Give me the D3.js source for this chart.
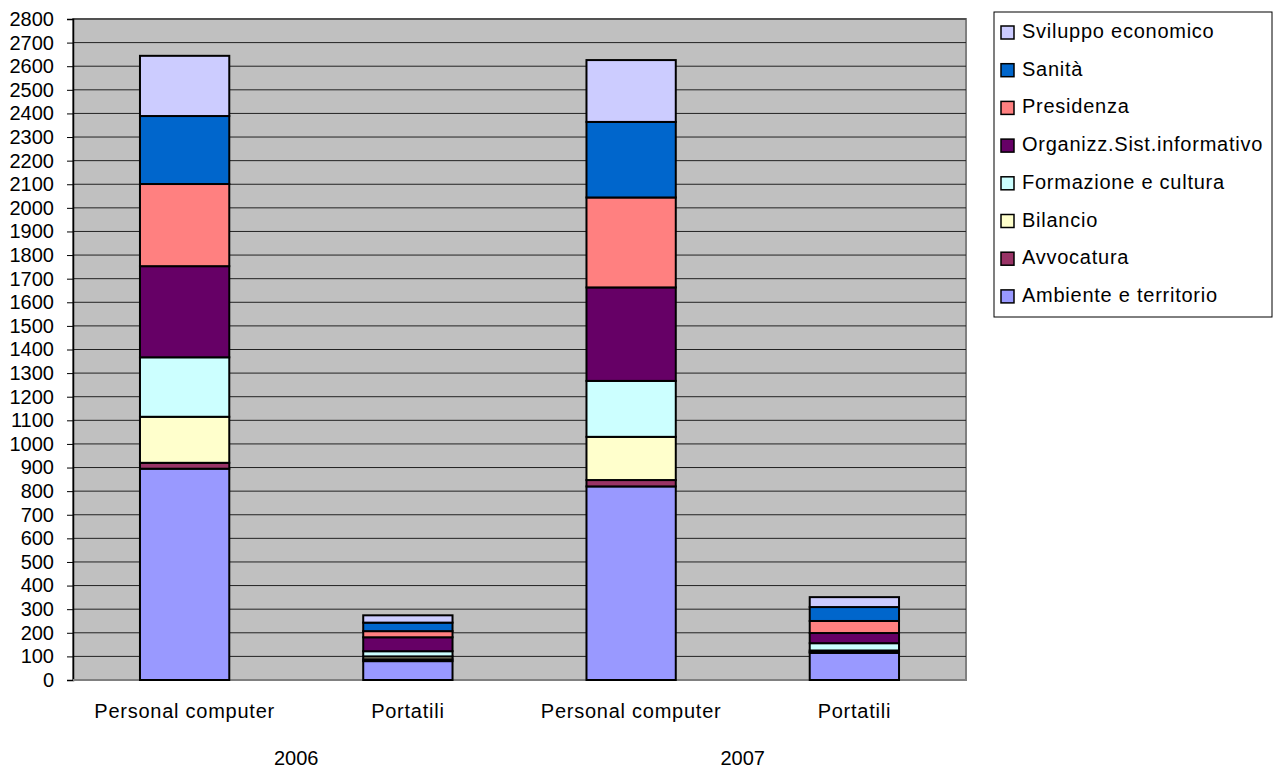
<!DOCTYPE html>
<html>
<head>
<meta charset="utf-8">
<script src="https://cdn.jsdelivr.net/npm/d3@7"></script>
<style>
  body { margin: 0; background: #fff; }
  text { font-family: "Liberation Sans", Arial, sans-serif; fill: #000; }
</style>
</head>
<body>
<svg id="chart" width="1278" height="771"></svg>
<script>
// bars, left to right
const barLabels = ["Personal computer", "Portatili", "Personal computer", "Portatili"];
const years = ["2006", "2007"];

// series, bottom to top of the stack
const seriesNames = ["Ambiente e territorio", "Avvocatura", "Bilancio", "Formazione e cultura",
  "Organizz.Sist.informativo", "Presidenza", "Sanità", "Sviluppo economico"];
const seriesColors = ["#9999FF", "#993366", "#FFFFCC", "#CCFFFF",
  "#660066", "#FF8080", "#0066CC", "#CCCCFF"];

const ambiente   = [895, 80, 820, 115];
const avvocatura = [25, 8, 27, 4];
const bilancio   = [195, 12, 183, 6];
const formazione = [252, 22, 237, 31];
const organizz   = [386, 59, 396, 43];
const presidenza = [348, 26, 381, 51];
const sanita     = [288, 36, 320, 59];
const sviluppo   = [255, 31, 262, 42];

const yTicks = d3.range(0, 2801, 100);

const seriesValues = [ambiente, avvocatura, bilancio, formazione, organizz, presidenza, sanita, sviluppo];

const rows = barLabels.map((lab, i) => {
  const r = { id: i, label: lab };
  seriesNames.forEach((s, k) => r[s] = seriesValues[k][i]);
  return r;
});

const stacked = d3.stack().keys(seriesNames)(rows);

const svg = d3.select("#chart");
const plotL = 73, plotR = 966, plotT = 19, plotB = 680;

const x = d3.scaleBand().domain(rows.map(d => d.id)).range([plotL, plotR]).padding(0);
const y = d3.scaleLinear().domain([0, 2800]).range([plotB, plotT]);
const barW = x.bandwidth() * 0.4;

// plot background
svg.append("rect")
  .attr("x", plotL).attr("y", plotT)
  .attr("width", plotR - plotL).attr("height", plotB - plotT)
  .attr("fill", "#C0C0C0")
  .attr("stroke", "#808080").attr("stroke-width", 2);

// grid
svg.append("g")
  .selectAll("line")
  .data(yTicks.filter(t => t > 0))
  .enter()
  .append("line")
  .attr("x1", plotL).attr("x2", plotR)
  .attr("y1", d => y(d)).attr("y2", d => y(d))
  .attr("stroke", "#222").attr("stroke-width", 1);

// y axis
const yAxis = svg.append("g")
  .attr("transform", `translate(${plotL},0)`)
  .call(d3.axisLeft(y).tickValues(yTicks).tickSize(6).tickPadding(13).tickFormat(d3.format("d")));
yAxis.select(".domain").attr("stroke", "#000").attr("stroke-width", 1.5);
yAxis.selectAll(".tick line").attr("stroke", "#000");
yAxis.selectAll("text").style("font-size", "20px").attr("fill", "#000")
  .style("font-family", "'Liberation Sans', Arial, sans-serif");

// bottom line
svg.append("line")
  .attr("x1", plotL).attr("x2", plotR)
  .attr("y1", plotB).attr("y2", plotB)
  .attr("stroke", "#808080").attr("stroke-width", 2);

// stacked bars
svg.append("g")
  .selectAll("g")
  .data(stacked)
  .enter()
  .append("g")
  .attr("fill", (d, i) => seriesColors[i])
  .selectAll("rect")
  .data(d => d)
  .enter()
  .append("rect")
  .attr("x", d => x(d.data.id) + (x.bandwidth() - barW) / 2)
  .attr("y", d => y(d[1]))
  .attr("width", barW)
  .attr("height", d => y(d[0]) - y(d[1]))
  .attr("stroke", "#000")
  .attr("stroke-width", 2);

// category labels
svg.append("g")
  .selectAll("text")
  .data(rows)
  .enter()
  .append("text")
  .text(d => d.label)
  .attr("x", d => x(d.id) + x.bandwidth() / 2)
  .attr("y", 718)
  .attr("text-anchor", "middle")
  .style("font-size", "20px")
  .style("letter-spacing", "0.75px");

// year labels
svg.append("g")
  .selectAll("text")
  .data(years)
  .enter()
  .append("text")
  .text(d => d)
  .attr("x", (d, i) => x(i * 2) + x.bandwidth())
  .attr("y", 765)
  .attr("text-anchor", "middle")
  .style("font-size", "20px");

// legend
const legend = svg.append("g");
legend.append("rect")
  .attr("x", 994).attr("y", 12)
  .attr("width", 278).attr("height", 305)
  .attr("fill", "#fff").attr("stroke", "#000").attr("stroke-width", 1);

const legendItems = seriesNames.map((s, i) => ({ name: s, color: seriesColors[i] })).reverse();

const item = legend.selectAll("g.item")
  .data(legendItems)
  .enter()
  .append("g")
  .attr("class", "item")
  .attr("transform", (d, i) => `translate(1001, ${31 + i * 37.7})`);

item.append("rect")
  .attr("x", 0).attr("y", -5)
  .attr("width", 13).attr("height", 13)
  .attr("fill", d => d.color)
  .attr("stroke", "#000").attr("stroke-width", 1.5);

item.append("text")
  .text(d => d.name)
  .attr("x", 21).attr("y", 7)
  .style("font-size", "20px")
  .style("letter-spacing", "0.75px");
</script>
</body>
</html>
